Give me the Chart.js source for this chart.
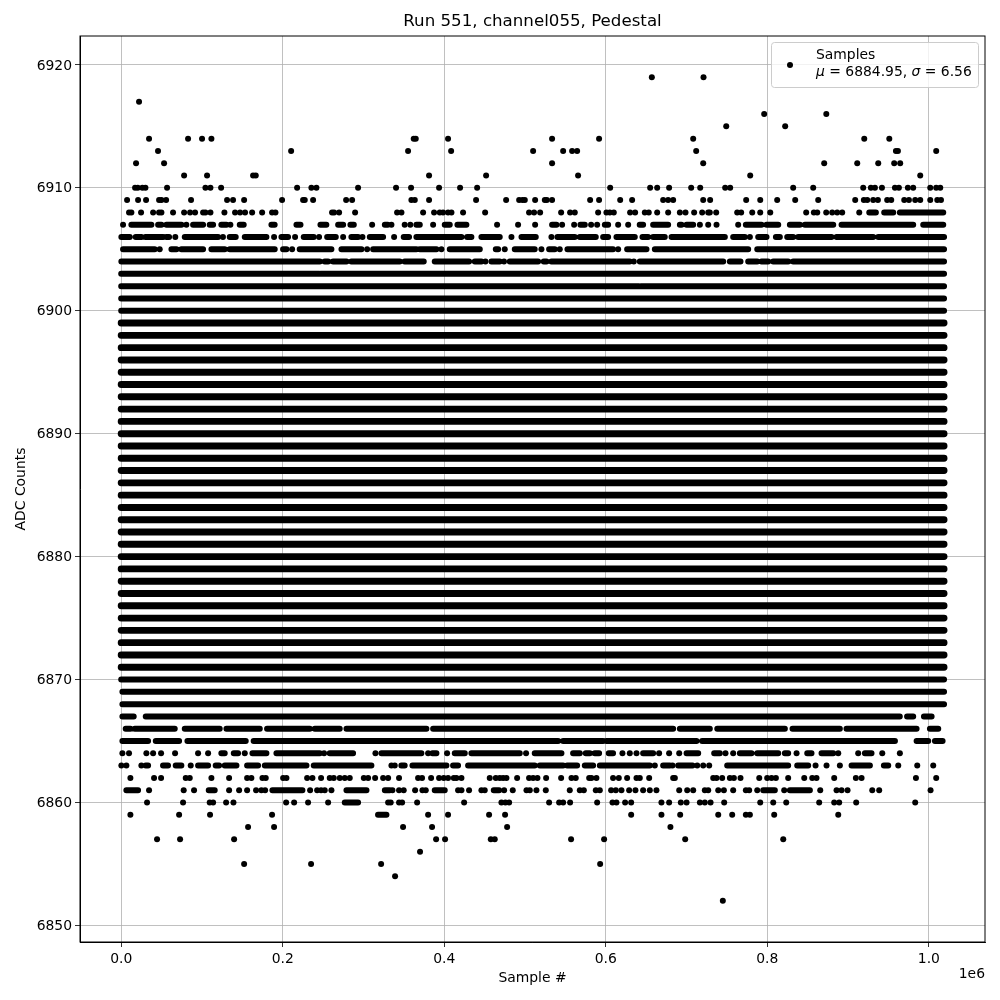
<!DOCTYPE html>
<html>
<head>
<meta charset="utf-8">
<title>Run 551, channel055, Pedestal</title>
<script src="https://cdn.jsdelivr.net/npm/chart.js@4/dist/chart.umd.min.js"></script>
<style>
    html, body { margin: 0; padding: 0; background: #fff; }
    canvas { display: block; }
</style>
</head>
<body>
<canvas id="pedestalChart" width="1000" height="1000"></canvas>
<script>
// Sample positions are in thousands of samples
const sparseLevels = [6919, 6917, 6916, 6915, 6914, 6913, 6912, 6911, 6910, 6909, 6908, 6907, 6906, 6905, 6904, 6903,
    6864, 6863, 6862, 6861, 6860, 6859, 6858, 6857, 6856, 6855, 6854, 6852];
const sparseSamples = [
    [657, 721],
    [22.1],
    [796.1, 873],
    [749.1, 822.1],
    [34.5, 82.8, 100.1, 111.7, 362.2, 364.7, 404.7, 533.5, 591.7, 708.2, 920, 951],
    [45.6, 210.4, 355.2, 408.5, 510, 547.2, 558.3, 564.5, 711.9, 959.2, 961.7, 1009.1],
    [18.4, 53.1, 533.5, 720.6, 870.4, 911.3, 937.3, 957.1, 964.5],
    [77.9, 106.3, 163.3, 166.6, 381.2, 451.8, 565.7, 778.8, 989.3],
    [17.2, 20.5, 26.2, 30, 56.8, 104.3, 110.5, 123.7, 217.8, 235.5, 241.7, 293.3, 340.3, 358.9, 393.6, 419.6, 440.7,
        605.4, 654.9, 663.6, 678.4, 705.7, 716.9, 747.8, 754, 832, 856.8, 918.7, 928.2, 933.2, 941.9, 958, 962.9, 974,
        980.6, 1001.7, 1009.1, 1014.1],
    [7.3, 20.9, 30.8, 46.9, 49.8, 55.6, 86.5, 131.1, 138.5, 152.2, 199.2, 225.2, 227.3, 237.6, 278.5, 285.9, 359.3,
        363.5, 381.2, 439.4, 476.6, 492.7, 496.8, 499.7, 512.5, 524.5, 527, 533.5, 580.6, 591.7, 617.8, 632.6, 671,
        677.2, 683.4, 720.6, 729.2, 773.8, 791.2, 812.2, 834.5, 863, 908.8, 919.5, 923.7, 931.1, 936.9, 948.4, 953.4,
        969.5, 975.3, 983.1, 989.3, 1001.7, 1010.4, 1015],
    [9.7, 12.6, 24.6, 39.5, 46.9, 49.8, 64.2, 77.9, 85.3, 91.5, 101.4, 104.3, 110.5, 127.8, 141, 147.2, 153.4, 162.1,
        174.5, 186.8, 191, 261.1, 263.6, 269.8, 289.6, 341.6, 347, 373.8, 387.4, 394.4, 398.5, 404.7, 408.9, 423.3,
        450.6, 505, 511.2, 518.7, 544.7, 555.8, 561.6, 590.5, 600.8, 605, 609.9, 630.1, 636.3, 648.3, 653.2, 663.6,
        677.2, 691.7, 698.7, 709.4, 719.3, 726.8, 728.8, 736.7, 762.7, 767.6, 781.3, 791.2, 803.6, 848.1, 857.6, 861.8,
        872.9, 880.3, 886.5, 892.7, 913.8],
    [2.3, 80.7, 135.2, 310.7, 334.6, 351, 358, 386.2, 465.4, 491.4, 512.5, 545.9, 560.8, 581.8, 589.3, 615.3, 627.7,
        716.5, 726.8, 737.1, 763.9],
    [67, 126, 189.3, 215.3, 245, 274.8, 298.7, 337.9, 483.2, 532.7, 778.4],
    [47.7, 211.6, 304.5, 396.5, 474.9, 520.3, 543, 615.3],
    [451, 474, 634.7],
    [],
    [1.5, 9.7, 31.2, 39.5, 49.4, 66.7, 95.2, 107.6, 153, 251.2, 314.8, 380, 403.5, 501.3, 620.6, 629.7, 638, 666, 678.4,
        690.9, 748.2, 757.7, 836.2, 887.8, 912.5, 942.3, 964.1],
    [0.2, 6.4, 25, 86.1, 334.6, 338.7, 660.7, 682.6, 713.2, 720.6, 728, 859.7, 873.3, 889.8, 962.1, 985.6, 1005.4],
    [11.4, 40.7, 49.4, 79.9, 84.9, 111.7, 133.6, 155.9, 161.2, 174.9, 179, 200.5, 204.6, 230.2, 236.8, 247.5, 258.2,
        263.2, 270.6, 276.8, 283, 300.4, 305.7, 314.4, 324.3, 330.5, 344, 367.6, 372.5, 383.7, 393.6, 399.4, 404.7,
        411.8, 415.1, 421.3, 456.3, 463.8, 468.7, 472.9, 477, 490.2, 505, 510, 515.4, 526.1, 544.7, 557.5, 562.8, 579.4,
        582.2, 588.4, 609, 616.1, 626.4, 638, 642.1, 653.7, 683.4, 685.5, 733, 737.1, 744.1, 753.6, 758.6, 766.8, 790,
        799.8, 805.2, 810.6, 825.8, 845.7, 855.6, 860.9, 882.8, 909.6, 916.7, 984, 1009.1],
    [34.5, 77.4, 90.2, 133.6, 146, 155.9, 167, 173.6, 178.2, 233.9, 242.6, 247.5, 252, 260.3, 335.8, 344, 349.8, 363.9,
        373, 377.1, 417.1, 421.3, 430.7, 446, 450.1, 474.1, 484.8, 501.8, 505.9, 514.1, 525.7, 555.4, 567.8, 572.8,
        587.6, 592.6, 606.6, 612.4, 619.4, 628.9, 636.7, 646.2, 654.5, 662.7, 690.9, 700.8, 708.2, 722.6, 726.8, 739.2,
        746.2, 757.7, 773.4, 777.5, 787.5, 820.9, 865.5, 885.7, 891.9, 899.3, 929.9, 938.5, 1002.1],
    [32, 76.6, 109.6, 113.8, 129.9, 139, 204.2, 214.1, 231.4, 256.2, 330.5, 333.7, 344, 347.8, 366.4, 424.6, 470.8,
        475.7, 480.3, 529.8, 542.2, 547.2, 555.8, 589.3, 608.3, 613.2, 623.9, 631.4, 668.9, 678.4, 692.9, 700, 716.5,
        722.6, 729.7, 746.6, 791.2, 807.3, 823.4, 864.2, 882.8, 889, 910, 983.1],
    [11.4, 71.7, 110, 186.8, 380, 404.7, 455.5, 475.3, 631.4, 668.9, 692.1, 739.2, 756.5, 773.4, 778.4, 808.5, 887.8],
    [157.1, 189.3, 349, 384.9, 477.8, 680],
    [44.4, 72.9, 139.8, 389.9, 401, 457.6, 462.5, 557, 597.9, 698.3, 819.7],
    [370],
    [152.2, 235.1, 321.8, 593],
    [339.1],
    [744.9]
];

// Rows where the samples overlap into a solid band: start, end, start, end...
const bandLevels = [6908, 6907, 6906, 6905, 6904, 6903, 6902, 6901, 6900, 6899, 6898, 6897, 6896, 6895, 6894, 6893, 6892,
    6891, 6890, 6889, 6888, 6887, 6886, 6885, 6884, 6883, 6882, 6881, 6880, 6879, 6878, 6877, 6876, 6875, 6874, 6873,
    6872, 6871, 6870, 6869, 6868, 6867, 6866, 6865, 6864, 6863, 6861, 6860, 6859];
const bandSpans = [
    [926.2, 934.4, 944.7, 955.9, 964.1, 1017.8],
    [12.6, 37.4, 45.7, 49.8, 56, 74.6, 89, 101.4, 109.6, 113.8, 124, 130.3, 146.8, 151.7, 186, 190, 217, 222, 246.7, 254,
        268.6, 274.8, 283.8, 288, 326.4, 330, 365.5, 369.7, 400.6, 406.8, 416.3, 427.4, 533.5, 538.9, 568.6, 574, 598.8,
        602.9, 642, 646.2, 658.6, 677.2, 691.7, 693.7, 700, 708.2, 773.4, 792.8, 799, 813.5, 827.9, 840.3, 846.5, 881.6,
        891.9, 980.6, 993, 1017.8],
    [0.2, 10.6, 18, 25, 30, 52, 56, 59.3, 78.7, 120, 134.4, 141.8, 153, 179.8, 198.4, 206.6, 226, 238.4, 255, 265.7, 285,
        293.3, 307.8, 324.3, 349.8, 356.4, 365.5, 421.3, 428.3, 433.6, 446, 468.7, 495.6, 513.3, 540.1, 561.6, 567.8,
        587.6, 596.7, 602.9, 613.2, 635.9, 645.4, 652.4, 658.6, 673, 681.4, 747.4, 757.7, 772.2, 788.7, 799, 810.6,
        815.5, 824.6, 832, 838.2, 879.5, 885.7, 931.1, 937.3, 1018.8],
    [2.3, 41.5, 62.2, 68.4, 74.5, 101.4, 111.7, 128.2, 134.4, 190.1, 200.4, 204.6, 221, 260.3, 272.7, 297.5, 311.9, 365.5,
        369.7, 390.3, 406.8, 444, 463.8, 466.7, 487.3, 512, 529.8, 536.8, 552.5, 609, 626.4, 650.4, 660.7, 776.3, 787.5,
        1018.8],
    [0.2, 245.9, 252, 256.2, 262.4, 278.9, 285, 344.9, 351, 374.6, 388.2, 430.7, 437.8, 446, 458.4, 468.7, 481.1, 516.2,
        523.2, 526.5, 532.7, 629.7, 642.1, 745.4, 753.6, 766.8, 776.3, 787.5, 792.8, 801, 807.3, 825.8, 832, 1018.8],
    [0, 245, 247, 1018.8],
    [0, 641, 643.5, 1018.8],
    [0, 1018.8], [0, 1018.8], [0, 1018.8], [0, 1018.8], [0, 1018.8], [0, 1018.8], [0, 1018.8], [0, 1018.8], [0, 1018.8],
    [0, 1018.8], [0, 1018.8], [0, 1018.8], [0, 1018.8], [0, 1018.8], [0, 1018.8], [0, 1018.8], [0, 1018.8], [0, 1018.8],
    [0, 1018.8], [0, 1018.8], [0, 1018.8], [0, 1018.8], [0, 1018.8], [0, 1018.8], [0, 1018.8], [0, 1018.8], [0, 1018.8],
    [0, 1018.8], [0, 1018.8], [0, 1018.8], [0, 1018.8], [0, 1018.8],
    [1.5, 1018.8],
    [1.5, 1018.8],
    [1.5, 15.5, 30.4, 964, 973, 980.6, 993.9, 1003.4],
    [5.6, 11.4, 16.8, 66.3, 78.7, 122, 130.3, 171.6, 180.6, 233.5, 239.7, 270.6, 278.9, 377.9, 386.2, 683.4, 691.7, 728.8,
        738, 821.7, 831.2, 889.8, 898, 984.8, 1001.3, 1011.6],
    [1.5, 33.3, 42.8, 71.7, 82, 154.2, 164, 541, 547.2, 596.7, 600.8, 712.3, 719.3, 958, 984.8, 999.2, 1007.5, 1017],
    [124, 128.2, 139.4, 144.7, 162.5, 179.8, 192.2, 245.9, 258.2, 287.1, 322.2, 371.7, 385.3, 390.3, 413, 425.4, 433.6,
        493.5, 512, 545.1, 559.5, 567.8, 575.2, 580.2, 586.4, 591.7, 603.7, 609, 646.2, 658.6, 700, 714.4, 734.2, 741.2,
        766, 780.4, 787.5, 813.5, 821.7, 825.8, 849.4, 854.7, 867.1, 881.6, 920.8, 929],
    [30.4, 33.3, 51.8, 58, 67.5, 74.5, 95.2, 107.6, 117, 121.2, 128.2, 142.7, 155.9, 169.5, 177.8, 229.4, 238.4, 309.8,
        346.9, 351, 360.6, 402.7, 410.9, 417.1, 429.5, 512, 518.3, 547.2, 552.1, 564.5, 574, 584.3, 592.6, 654.5, 671,
        679.3, 689.6, 707.4, 750.3, 825.8, 837, 850.6, 904.3, 927, 944.3, 949.7],
    [6.4, 20.9, 108.4, 115.8, 187.2, 224.4, 278.9, 303.7, 326.4, 332.5, 388.2, 400.6, 461.3, 467.9, 794.9, 809.3, 827.9,
        852.7],
    [276.8, 293.3],
    [318, 328.4]
];

const xTicks = [0, 200000, 400000, 600000, 800000, 1000000];
const xTickLabels = ["0.0", "0.2", "0.4", "0.6", "0.8", "1.0"];
const yTicks = [6850, 6860, 6870, 6880, 6890, 6900, 6910, 6920];

const fontName = '"DejaVu Sans"';

// Build the chart points from the arrays above
const samplePoints = [];
sparseLevels.forEach((level, i) => {
    sparseSamples[i].forEach(x => samplePoints.push({ x: x * 1000, y: level }));
});

// The busiest rows have so many overlapping dots that they print a little thicker
function isBusyRow(level) {
    return level >= 6871 && level <= 6899;
}

function buildBandPoints(keepRow) {
    const points = [];
    bandLevels.forEach((level, i) => {
        if (!keepRow(level)) return;
        const spans = bandSpans[i];
        for (let j = 0; j < spans.length; j += 2) {
            points.push({ x: spans[j] * 1000, y: level });
            points.push({ x: spans[j + 1] * 1000, y: level });
            points.push({ x: spans[j + 1] * 1000, y: NaN });  // break the line between spans
        }
    });
    return points;
}

// Put the title over the plot area, not over the whole canvas
const titleOverAxes = {
    id: "titleOverAxes",
    afterLayout(chart) {
        chart.titleBlock.left = chart.chartArea.left;
        chart.titleBlock.right = chart.chartArea.right;
    },
    beforeDraw(chart) {
        // y tick labels sit a pixel lower in the reference
        chart.scales.y.getLabelItems(chart.chartArea).forEach(item => {
            item.options.translation[1] = item.options.translation[1] + 1;
        });
    }
};

// Axes frame, the 1e6 offset label and the legend box
const frameAndLegend = {
    id: "frameAndLegend",
    afterDraw(chart) {
        const ctx = chart.ctx;
        const area = chart.chartArea;
        ctx.save();
        ctx.strokeStyle = "#000";
        ctx.lineWidth = 1;
        ctx.strokeRect(area.left, area.top, area.right - area.left, area.bottom - area.top);

        ctx.fillStyle = "#000";
        ctx.font = `13.9px ${fontName}`;
        ctx.textAlign = "right";
        ctx.textBaseline = "alphabetic";
        ctx.fillText("1e6", area.right, 978);

        // Legend
        ctx.beginPath();
        ctx.roundRect(771.5, 42.5, 207, 45, 3);
        ctx.fillStyle = "rgba(255,255,255,0.8)";
        ctx.fill();
        ctx.strokeStyle = "#ccc";
        ctx.stroke();

        ctx.fillStyle = "#000";
        ctx.beginPath();
        ctx.arc(790, 65, 3, 0, Math.PI * 2);
        ctx.fill();

        ctx.textAlign = "left";
        ctx.fillText("Samples", 816, 59);

        let x = 816;
        const parts = [["\u03bc", true], [" = 6884.95, ", false], ["\u03c3", true], [" = 6.56", false]];
        parts.forEach(part => {
            ctx.font = `${part[1] ? "italic " : ""}13.9px ${fontName}`;
            ctx.fillText(part[0], x, 76);
            x += ctx.measureText(part[0]).width;
        });
        ctx.restore();
    }
};

new Chart(document.getElementById("pedestalChart"), {
    type: "scatter",
    data: {
        datasets: [
            {
                label: "Samples",
                data: samplePoints,
                backgroundColor: "#000",
                borderWidth: 0,
                pointRadius: 3
            },
            {
                label: "Sample bands",
                data: buildBandPoints(level => !isBusyRow(level)),
                showLine: true,
                spanGaps: false,
                borderColor: "#000",
                borderWidth: 6,
                borderCapStyle: "round",
                pointRadius: 0
            },
            {
                label: "Busy sample bands",
                data: buildBandPoints(isBusyRow),
                showLine: true,
                spanGaps: false,
                borderColor: "#000",
                borderWidth: 6.9,
                borderCapStyle: "round",
                pointRadius: 0
            }
        ]
    },
    options: {
        responsive: false,
        animation: false,
        layout: { padding: { left: 0, right: 15, top: 0, bottom: 0 } },
        plugins: {
            legend: { display: false },
            tooltip: { enabled: false },
            title: {
                display: true,
                text: "Run 551, channel055, Pedestal",
                color: "#000",
                font: { family: fontName, size: 16.67, weight: "normal" },
                padding: { top: 12, bottom: 4 }
            }
        },
        scales: {
            x: {
                type: "linear",
                min: -51000,
                max: 1069500,
                afterFit(scale) { scale.height = 58; },
                afterBuildTicks(scale) { scale.ticks = xTicks.map(value => ({ value })); },
                grid: { color: "#b0b0b0", lineWidth: 0.8, tickColor: "#000", tickLength: 5, tickWidth: 0.8 },
                border: { color: "#000", width: 1 },
                ticks: {
                    color: "#000",
                    font: { family: fontName, size: 13.9 },
                    padding: 4,
                    maxRotation: 0,
                    callback: (value, index) => xTickLabels[index]
                },
                title: {
                    display: true,
                    text: "Sample #",
                    color: "#000",
                    font: { family: fontName, size: 13.9 },
                    padding: { top: 3, bottom: 13 }
                }
            },
            y: {
                type: "linear",
                min: 6848.65,
                max: 6922.35,
                afterFit(scale) { scale.width = 80; },
                afterBuildTicks(scale) { scale.ticks = yTicks.map(value => ({ value })); },
                grid: { color: "#b0b0b0", lineWidth: 0.8, tickColor: "#000", tickLength: 5, tickWidth: 0.8 },
                border: { color: "#000", width: 1 },
                ticks: {
                    color: "#000",
                    font: { family: fontName, size: 13.9 },
                    padding: 3,
                    callback: value => String(value)
                },
                title: {
                    display: true,
                    text: "ADC Counts",
                    color: "#000",
                    font: { family: fontName, size: 13.9 },
                    padding: { top: 13, bottom: 3 }
                }
            }
        }
    },
    plugins: [titleOverAxes, frameAndLegend]
});
</script>
</body>
</html>
